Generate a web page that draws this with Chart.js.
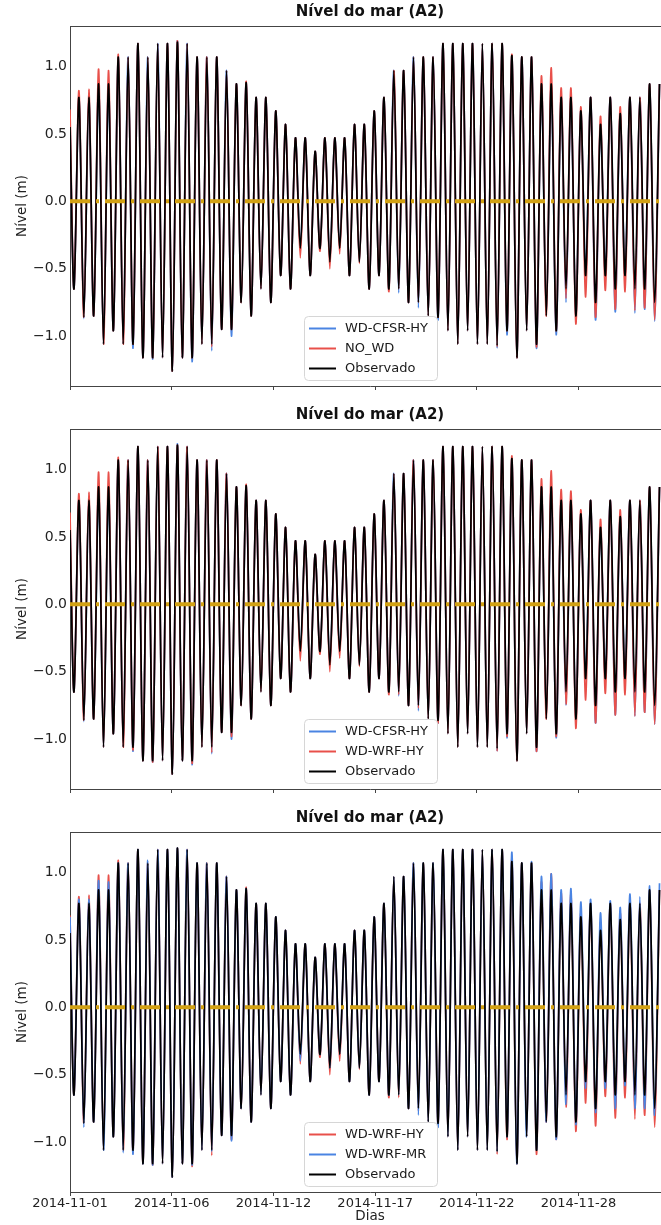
<!DOCTYPE html>
<html>
<head>
<meta charset="utf-8">
<script src="https://cdn.jsdelivr.net/npm/chart.js@4.4.0/dist/chart.umd.min.js"></script>
<style>
  html, body { margin: 0; padding: 0; background: #fff; overflow: hidden; }
  #wrap { position: relative; width: 661px; height: 1225px; overflow: hidden; }
  canvas { position: absolute; left: 0; }
</style>
</head>
<body>
<div id="wrap">
  <canvas id="painel1" width="670" height="403" style="top:0px"></canvas>
  <canvas id="painel2" width="670" height="403" style="top:403px"></canvas>
  <canvas id="painel3" width="670" height="419" style="top:806px"></canvas>
</div>
<script>
const titulo = 'Nível do mar (A2)';
const rotuloY = 'Nível (m)';
const rotuloX = 'Dias';

// eixo x em dias desde 2014-11-01
const diasTicks = [0, 5.35, 10.7, 16.05, 21.4, 26.75];
const datasTicks = ['2014-11-01', '2014-11-06', '2014-11-12', '2014-11-17', '2014-11-22', '2014-11-28'];
const nivelTicks = [-1.0, -0.5, 0.0, 0.5, 1.0];
const xMax = 31.56;

// instantes das baixa-mares / preamares (dias)
const periodo = 0.5176;
const tBaixa0 = 0.21;
const tAlta0 = 0.47;

// Observado
const obsInicio = 0.55;
const obsAltas = [0.77,0.77,0.87,0.87,1.07,1.07,1.17,1.07,1.17,1.17,
  1.18,1.17,1.07,1.07,1.07,0.97,0.87,0.88,0.77,0.77,
  0.67,0.57,0.47,0.47,0.37,0.47,0.47,0.47,0.57,0.57,
  0.67,0.77,0.97,0.97,1.07,1.07,1.07,1.17,1.17,1.17,
  1.17,1.17,1.17,1.17,1.08,1.07,1.07,0.87,0.87,0.77,
  0.77,0.67,0.77,0.57,0.77,0.65,0.77,0.77,0.87,0.87];
const obsBaixas = [-0.65,-0.86,-0.85,-1.06,-0.96,-1.06,-1.06,-1.16,-1.16,-1.16,
  -1.26,-1.16,-1.16,-1.06,-1.06,-0.95,-0.95,-0.75,-0.85,-0.65,
  -0.75,-0.55,-0.65,-0.35,-0.55,-0.35,-0.45,-0.35,-0.55,-0.45,
  -0.65,-0.55,-0.65,-0.65,-0.75,-0.75,-0.85,-0.86,-0.96,-1.06,
  -0.96,-1.06,-1.06,-1.07,-0.96,-1.16,-0.96,-1.06,-0.85,-0.96,
  -0.65,-0.85,-0.55,-0.75,-0.55,-0.65,-0.55,-0.65,-0.65,-0.75];

// WD-CFSR-HY
const cfsrInicio = 0.60;
const cfsrAltas = [0.77,0.77,0.87,0.87,1.07,1.07,1.17,1.07,1.17,1.17,
  1.19,1.17,1.07,1.07,1.07,0.97,0.87,0.88,0.77,0.77,
  0.67,0.57,0.47,0.47,0.37,0.47,0.47,0.47,0.57,0.57,
  0.67,0.77,0.97,0.97,1.07,1.07,1.07,1.17,1.17,1.17,
  1.17,1.17,1.17,1.17,1.08,1.07,1.07,0.87,0.87,0.77,
  0.77,0.67,0.77,0.57,0.77,0.65,0.77,0.77,0.87,0.87];
const cfsrBaixas = [-0.65,-0.87,-0.85,-1.06,-0.96,-1.06,-1.09,-1.16,-1.17,-1.16,
  -1.26,-1.16,-1.19,-1.06,-1.11,-0.95,-1.00,-0.75,-0.85,-0.65,
  -0.75,-0.55,-0.65,-0.35,-0.55,-0.35,-0.45,-0.35,-0.55,-0.45,
  -0.65,-0.55,-0.65,-0.68,-0.75,-0.79,-0.85,-0.88,-0.96,-1.06,
  -0.96,-1.06,-1.06,-1.09,-0.99,-1.16,-0.96,-1.09,-0.85,-0.99,
  -0.75,-0.85,-0.55,-0.88,-0.55,-0.82,-0.55,-0.83,-0.80,-0.89];

// NO_WD
const nowdInicio = 0.68;
const nowdAltas = [0.82,0.83,0.98,0.97,1.09,1.07,1.17,1.07,1.17,1.17,
  1.19,1.17,1.07,1.07,1.07,0.97,0.87,0.89,0.77,0.77,
  0.67,0.57,0.47,0.47,0.37,0.47,0.47,0.47,0.57,0.57,
  0.67,0.77,0.97,0.97,1.07,1.07,1.07,1.17,1.17,1.17,
  1.17,1.17,1.17,1.17,1.09,1.07,1.07,0.93,0.99,0.84,
  0.84,0.70,0.77,0.63,0.77,0.70,0.77,0.77,0.87,0.87];
const nowdBaixas = [-0.65,-0.86,-0.85,-1.06,-0.96,-1.06,-1.06,-1.16,-1.16,-1.16,
  -1.26,-1.16,-1.16,-1.06,-1.08,-0.95,-0.95,-0.75,-0.85,-0.65,
  -0.75,-0.55,-0.65,-0.42,-0.55,-0.37,-0.50,-0.39,-0.55,-0.46,
  -0.65,-0.55,-0.67,-0.65,-0.75,-0.75,-0.85,-0.86,-0.96,-1.06,
  -0.96,-1.06,-1.06,-1.08,-0.96,-1.16,-0.96,-1.08,-0.85,-0.96,
  -0.72,-0.91,-0.71,-0.86,-0.66,-0.80,-0.67,-0.81,-0.79,-0.88];

// WD-WRF-HY
const wrfhyInicio = 0.68;
const wrfhyAltas = [0.82,0.83,0.98,0.98,1.09,1.07,1.17,1.07,1.17,1.17,
  1.18,1.17,1.07,1.07,1.07,0.97,0.87,0.89,0.77,0.77,
  0.67,0.57,0.47,0.47,0.37,0.47,0.47,0.47,0.57,0.57,
  0.67,0.77,0.97,0.97,1.07,1.07,1.07,1.17,1.17,1.17,
  1.17,1.17,1.17,1.17,1.10,1.07,1.07,0.93,0.99,0.85,
  0.84,0.70,0.77,0.63,0.77,0.70,0.77,0.77,0.87,0.87];
const wrfhyBaixas = [-0.65,-0.86,-0.85,-1.06,-0.96,-1.06,-1.08,-1.16,-1.17,-1.16,
  -1.26,-1.16,-1.18,-1.06,-1.10,-0.95,-0.98,-0.75,-0.85,-0.65,
  -0.75,-0.55,-0.65,-0.42,-0.55,-0.37,-0.50,-0.40,-0.55,-0.46,
  -0.65,-0.55,-0.67,-0.67,-0.75,-0.77,-0.85,-0.88,-0.96,-1.06,
  -0.96,-1.06,-1.06,-1.09,-0.98,-1.16,-0.96,-1.09,-0.85,-0.98,
  -0.74,-0.92,-0.71,-0.88,-0.66,-0.82,-0.67,-0.83,-0.80,-0.89];

// WD-WRF-MR
const wrfmrInicio = 0.67;
const wrfmrAltas = [0.80,0.80,0.94,0.93,1.07,1.07,1.17,1.09,1.17,1.17,
  1.18,1.17,1.07,1.07,1.07,0.97,0.87,0.88,0.77,0.77,
  0.67,0.57,0.47,0.47,0.37,0.47,0.47,0.47,0.57,0.57,
  0.67,0.77,0.97,0.97,1.07,1.07,1.07,1.17,1.17,1.17,
  1.17,1.17,1.17,1.17,1.15,1.07,1.08,0.97,0.99,0.87,
  0.88,0.78,0.80,0.70,0.79,0.74,0.84,0.82,0.90,0.92];
const wrfmrBaixas = [-0.65,-0.89,-0.85,-1.06,-0.96,-1.08,-1.09,-1.16,-1.17,-1.16,
  -1.26,-1.16,-1.17,-1.06,-1.07,-0.95,-0.99,-0.75,-0.85,-0.65,
  -0.75,-0.55,-0.65,-0.40,-0.55,-0.35,-0.45,-0.35,-0.55,-0.45,
  -0.65,-0.55,-0.65,-0.65,-0.75,-0.80,-0.85,-0.89,-0.96,-1.06,
  -0.96,-1.06,-1.06,-1.07,-0.96,-1.16,-0.96,-1.06,-0.85,-0.98,
  -0.72,-0.87,-0.60,-0.78,-0.60,-0.75,-0.58,-0.75,-0.75,-0.80];

// linha de referência em zero
const zeroLinha = [0, 0];

const AZUL = '#4a84e2';
const VERMELHO = '#e8504a';
const PRETO = '#000000';
const OURO = '#d2a114';
const FONTE = 'DejaVu Sans';

function serie(inicio, baixas, altas) {
  const pts = [{ x: 0, y: inicio }];
  for (let i = 0; i < baixas.length; i++) {
    pts.push({ x: tBaixa0 + i * periodo, y: baixas[i] });
    pts.push({ x: tAlta0 + i * periodo, y: altas[i] });
  }
  return pts;
}

const obs = serie(obsInicio, obsBaixas, obsAltas);
const cfsr = serie(cfsrInicio, cfsrBaixas, cfsrAltas);
const nowd = serie(nowdInicio, nowdBaixas, nowdAltas);
const wrfhy = serie(wrfhyInicio, wrfhyBaixas, wrfhyAltas);
const wrfmr = serie(wrfmrInicio, wrfmrBaixas, wrfmrAltas);

const paineis = [
  { id: 'painel1', eixoX: false, linhas: [['WD-CFSR-HY', cfsr, AZUL], ['NO_WD', nowd, VERMELHO], ['Observado', obs, PRETO]] },
  { id: 'painel2', eixoX: false, linhas: [['WD-CFSR-HY', cfsr, AZUL], ['WD-WRF-HY', wrfhy, VERMELHO], ['Observado', obs, PRETO]] },
  { id: 'painel3', eixoX: true, linhas: [['WD-WRF-HY', wrfhy, VERMELHO], ['WD-WRF-MR', wrfmr, AZUL], ['Observado', obs, PRETO]] }
];

// moldura superior (estilo matplotlib)
const molduraPlugin = {
  id: 'moldura',
  afterDraw(chart) {
    const { ctx, chartArea: a } = chart;
    ctx.save();
    ctx.strokeStyle = '#444';
    ctx.lineWidth = 1;
    ctx.beginPath();
    ctx.moveTo(a.left, a.top + 0.5);
    ctx.lineTo(a.right, a.top + 0.5);
    ctx.stroke();
    ctx.restore();
  }
};

// legenda dentro do gráfico, canto inferior
const legendaPlugin = {
  id: 'legendaMpl',
  afterDraw(chart) {
    const { ctx, chartArea: a } = chart;
    const itens = chart.data.datasets.filter(d => !d.semLegenda);
    const w = 133, h = 64, x0 = 304, y0 = a.bottom - 6 - h;
    ctx.save();
    ctx.beginPath();
    ctx.roundRect(x0 + 0.5, y0 + 0.5, w, h, 4);
    ctx.fillStyle = 'rgba(255,255,255,0.8)';
    ctx.fill();
    ctx.strokeStyle = '#d6d6d6';
    ctx.lineWidth = 1;
    ctx.stroke();
    ctx.font = '13px "' + FONTE + '"';
    ctx.textBaseline = 'middle';
    itens.forEach((d, i) => {
      const y = y0 + 12.5 + i * 20;
      ctx.strokeStyle = d.borderColor;
      ctx.lineWidth = 2;
      ctx.beginPath();
      ctx.moveTo(x0 + 5, y);
      ctx.lineTo(x0 + 32, y);
      ctx.stroke();
      ctx.fillStyle = '#1a1a1a';
      ctx.fillText(d.label, x0 + 41, y + 0.5);
    });
    ctx.restore();
  }
};

function fmtNivel(v) {
  return (v < 0 ? '\u2212' : '') + Math.abs(v).toFixed(1);
}

paineis.forEach(p => {
  const datasets = p.linhas.map((l, i) => ({
    label: l[0],
    data: l[1],
    borderColor: l[2],
    borderWidth: 1.7,
    pointRadius: 0,
    tension: 0.3,
    order: p.linhas.length - i
  }));
  datasets.push({
    label: 'zero',
    semLegenda: true,
    data: [{ x: 0, y: zeroLinha[0] }, { x: xMax, y: zeroLinha[1] }],
    borderColor: OURO,
    borderWidth: 4,
    borderDash: [20, 6, 3, 6],
    pointRadius: 0,
    order: 0
  });

  new Chart(document.getElementById(p.id), {
    type: 'line',
    data: { datasets },
    plugins: [molduraPlugin, legendaPlugin],
    options: {
      responsive: false,
      animation: false,
      devicePixelRatio: 1,
      parsing: false,
      layout: { padding: 0 },
      plugins: {
        legend: { display: false },
        tooltip: { enabled: false },
        title: {
          display: true,
          text: titulo,
          fullSize: false,
          color: '#111',
          font: { family: FONTE, size: 15, weight: 'bold', lineHeight: 1.2 },
          padding: { top: 3, bottom: 5 }
        }
      },
      scales: {
        x: {
          type: 'linear',
          min: 0,
          max: xMax,
          afterBuildTicks: s => { s.ticks = diasTicks.map(v => ({ value: v })); },
          afterFit: s => { s.height = p.eixoX ? 33 : 17; },
          border: { display: true, color: '#444', width: 1 },
          grid: { drawOnChartArea: false, drawTicks: true, tickLength: 4, color: '#444' },
          ticks: {
            display: p.eixoX,
            autoSkip: false,
            maxRotation: 0,
            padding: 0,
            color: '#222',
            font: { family: FONTE, size: 13 },
            callback: (v, i) => datasTicks[i]
          },
          title: {
            display: p.eixoX,
            text: rotuloX,
            color: '#222',
            font: { family: FONTE, size: 13.5 },
            padding: { top: 0, bottom: 0 }
          }
        },
        y: {
          type: 'linear',
          min: -1.37,
          max: 1.30,
          afterBuildTicks: s => { s.ticks = nivelTicks.map(v => ({ value: v })); },
          afterFit: s => { s.width = 70; },
          border: { display: true, color: '#444', width: 1 },
          grid: { drawOnChartArea: false, drawTicks: false },
          ticks: {
            padding: 3,
            color: '#222',
            font: { family: FONTE, size: 14 },
            callback: v => fmtNivel(v)
          },
          title: {
            display: true,
            text: rotuloY,
            color: '#222',
            font: { family: FONTE, size: 13.5 },
            padding: { top: 14, bottom: 0 }
          }
        }
      }
    }
  });
});
</script>
</body>
</html>
